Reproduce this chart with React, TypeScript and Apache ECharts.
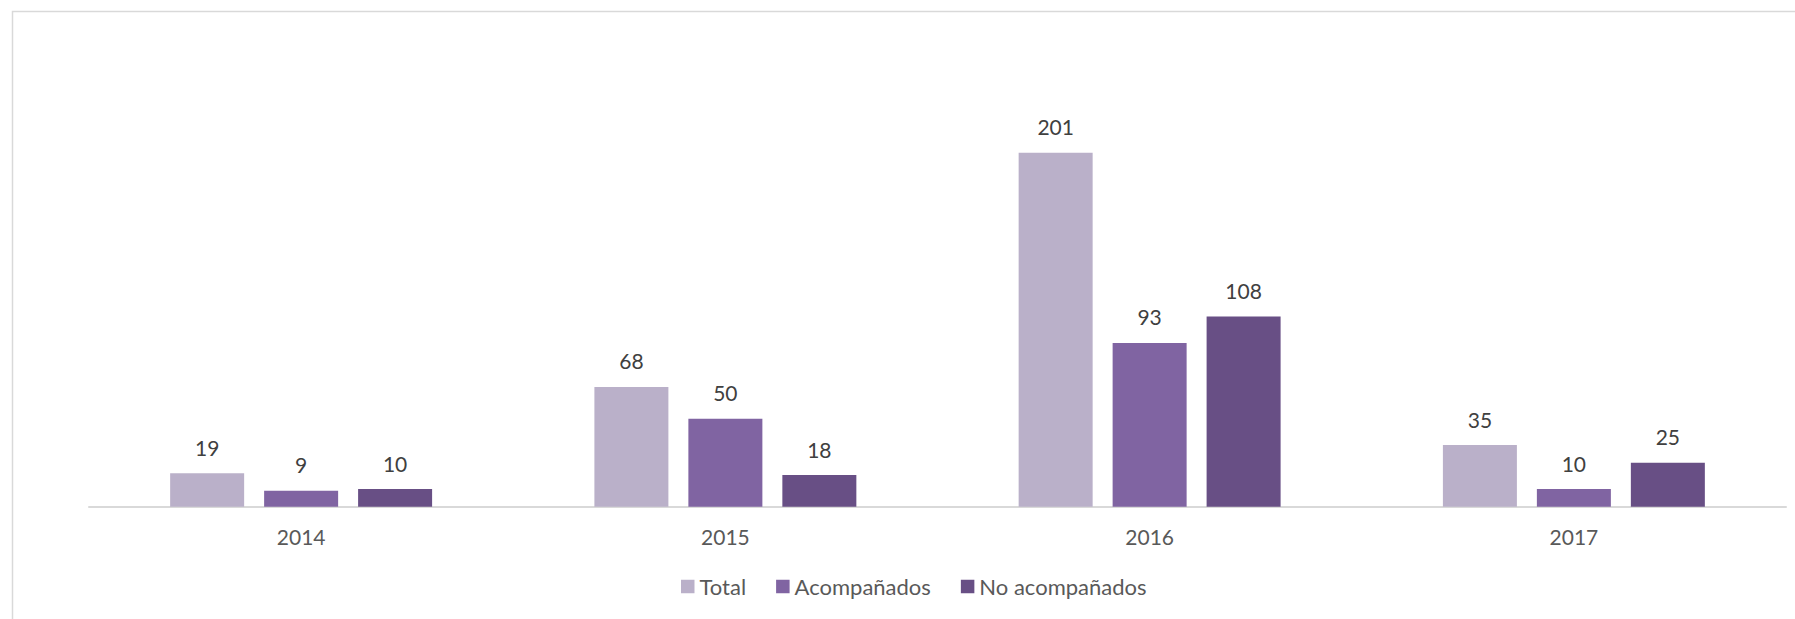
import React, { useEffect, useRef } from "react";
import * as echarts from "echarts";

const categories = ["2014", "2015", "2016", "2017"];
const seriesNames = ["Total", "Acompañados", "No acompañados"];
const totalValues = [19, 68, 201, 35];
const acompanadosValues = [9, 50, 93, 10];
const noAcompanadosValues = [10, 18, 108, 25];
const seriesColors = ["#bab0c9", "#8064a2", "#684f85"];

const FONT = "Lato";

export default function App() {
  const ref = useRef<HTMLDivElement>(null);
  useEffect(() => {
    if (!ref.current) return;
    const chart = echarts.init(ref.current, null, { renderer: "svg" });
    const values = [totalValues, acompanadosValues, noAcompanadosValues];
    chart.setOption({
      animation: false,
      backgroundColor: "#ffffff",
      graphic: [
        {
          type: "rect",
          shape: { x: 12.5, y: 11.5, width: 1900, height: 800 },
          style: { fill: "none", stroke: "#d9d9d9", lineWidth: 1.5 },
          silent: true,
        },
      ],
      grid: { left: 89, right: 9, top: 66.5, bottom: 112.3, containLabel: false },
      legend: {
        top: 575.5,
        left: 681,
        padding: 0,
        itemWidth: 13.5,
        itemHeight: 13.5,
        itemGap: 30,
        icon: "rect",
        textStyle: { color: "#595959", fontSize: 22, fontFamily: FONT },
        data: seriesNames,
      },
      xAxis: {
        type: "category",
        data: categories,
        axisLine: { lineStyle: { color: "#d9d9d9", width: 2 } },
        axisTick: { show: false },
        axisLabel: { color: "#595959", fontSize: 21, fontFamily: FONT, margin: 19 },
      },
      yAxis: {
        type: "value",
        min: 0,
        max: 250,
        show: false,
        splitLine: { show: false },
      },
      series: seriesNames.map((name, i) => ({
        name,
        type: "bar",
        data: values[i],
        barWidth: 74,
        barGap: "27%",
        itemStyle: { color: seriesColors[i] },
        label: {
          show: true,
          position: "top",
          distance: 15.5,
          color: "#404040",
          fontSize: 21,
          fontFamily: FONT,
        },
      })),
    });
    return () => chart.dispose();
  }, []);
  return (
    <div
      ref={ref}
      style={{ position: "absolute", left: 0, top: 0, width: 1795, height: 619 }}
    />
  );
}
